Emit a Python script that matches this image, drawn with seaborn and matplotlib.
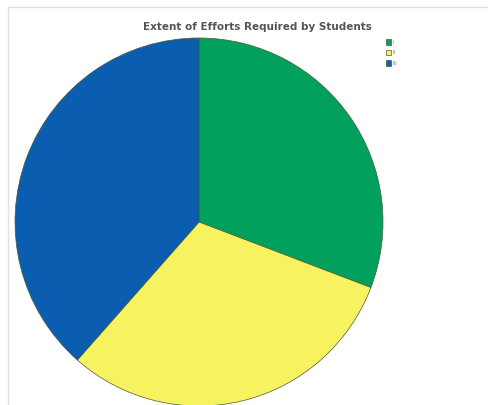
import numpy as np
import matplotlib
matplotlib.use("Agg")
import matplotlib.pyplot as plt
import seaborn as sns
from matplotlib.lines import Line2D

# -----------------------------
# Data
# -----------------------------
categories = ["I", "II", "III"]
shares = [30.8, 30.7, 38.5]
slice_colors = ["#01A05C", "#F7F25F", "#0B5DB0"]

sns.set_theme(style="white")
plt.rcParams["font.family"] = ["DejaVu Sans"]
palette = sns.color_palette(slice_colors)

fig = plt.figure(figsize=(4.89, 4.05), dpi=100)
fig.patch.set_facecolor("white")

# faint frame of the original screenshot (top and left only)
top = 1 - 7 / 405
left = 8 / 489
fig.add_artist(Line2D([left, 1.0], [top, top], transform=fig.transFigure,
                      color="#e2e2e2", linewidth=1.0))
fig.add_artist(Line2D([left, left], [0.0, top], transform=fig.transFigure,
                      color="#e2e2e2", linewidth=1.0))

ax = fig.add_axes([15 / 489, -1 / 405, 368 / 489, 368 / 405])
wedges, _ = ax.pie(shares, colors=palette, startangle=90, counterclock=False,
                   radius=1.0,
                   wedgeprops=dict(edgecolor="#4a5a3a", linewidth=0.5))
ax.set_xlim(-1.0, 1.0)
ax.set_ylim(-1.0, 1.0)
ax.set_aspect("equal")
ax.axis("off")

fig.text(257 / 489, 1 - 27 / 405, "Extent of Efforts Required by Students",
         ha="center", va="center", fontsize=7.5, fontweight="bold",
         color="#555555")

fig.legend(wedges, categories, loc="upper left",
           bbox_to_anchor=(381 / 489, 1 - 34 / 405),
           fontsize=4, frameon=False, handlelength=0.9, handleheight=1.2,
           labelspacing=0.9, handletextpad=0.3, labelcolor="#888888")

fig.savefig("out.png", dpi=100)
